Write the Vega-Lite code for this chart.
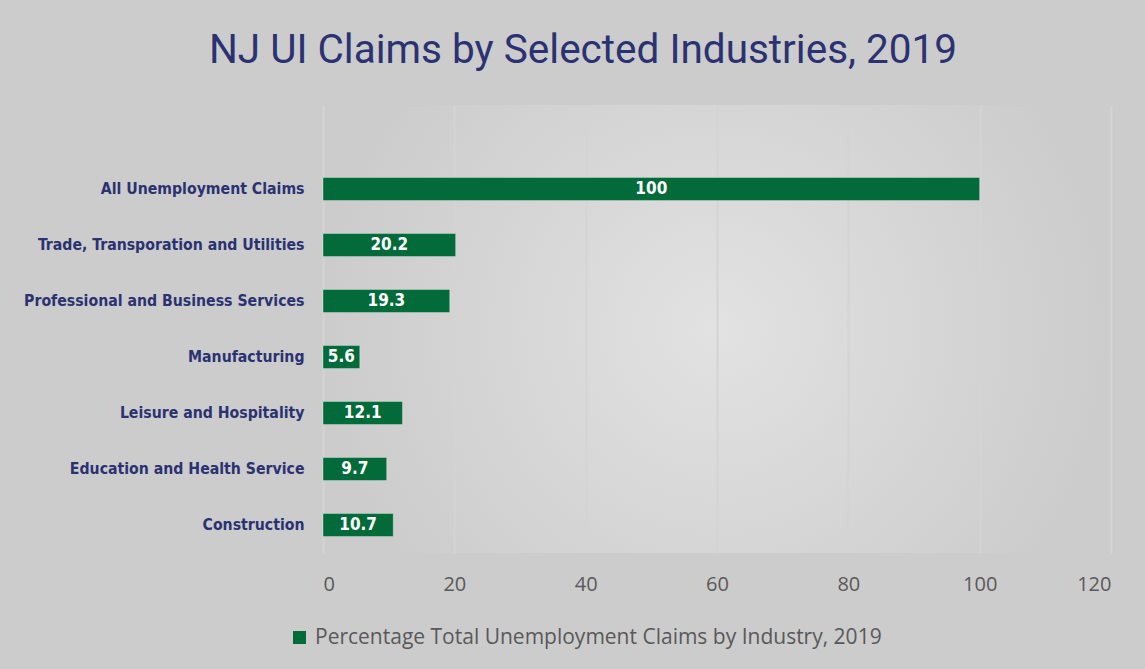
{
  "$schema": "https://vega.github.io/schema/vega-lite/v6.json",
  "width": 788,
  "height": 448,
  "autosize": {"type": "none"},
  "padding": {"left": 323, "top": 105, "right": 34, "bottom": 116},
  "background": "#cccccc",
  "view": {
    "stroke": null,
    "fill": {
      "gradient": "radial",
      "x1": 0.5, "y1": 0.5, "r1": 0,
      "x2": 0.5, "y2": 0.5, "r2": 0.5,
      "stops": [
        {"offset": 0, "color": "#e2e2e2"},
        {"offset": 1, "color": "#cccccc"}
      ]
    }
  },
  "title": {
    "text": "NJ UI Claims by Selected Industries, 2019",
    "fontSize": 40.5,
    "font": "Roboto",
    "fontWeight": "normal",
    "color": "#2b3272",
    "anchor": "middle",
    "dx": -134,
    "offset": 34
  },
  "data": {
    "values": [
      {"industry": "All Unemployment Claims", "value": 100, "series": "Percentage Total Unemployment Claims by Industry, 2019"},
      {"industry": "Trade, Transporation and Utilities", "value": 20.2, "series": "Percentage Total Unemployment Claims by Industry, 2019"},
      {"industry": "Professional and Business Services", "value": 19.3, "series": "Percentage Total Unemployment Claims by Industry, 2019"},
      {"industry": "Manufacturing", "value": 5.6, "series": "Percentage Total Unemployment Claims by Industry, 2019"},
      {"industry": "Leisure and Hospitality", "value": 12.1, "series": "Percentage Total Unemployment Claims by Industry, 2019"},
      {"industry": "Education and Health Service", "value": 9.7, "series": "Percentage Total Unemployment Claims by Industry, 2019"},
      {"industry": "Construction", "value": 10.7, "series": "Percentage Total Unemployment Claims by Industry, 2019"}
    ]
  },
  "transform": [{"calculate": "datum.value / 2", "as": "mid"}],
  "encoding": {
    "y": {
      "field": "industry",
      "type": "nominal",
      "sort": null,
      "scale": {
        "domain": [" ", "All Unemployment Claims", "Trade, Transporation and Utilities", "Professional and Business Services", "Manufacturing", "Leisure and Hospitality", "Education and Health Service", "Construction"],
        "paddingInner": 0.59,
        "paddingOuter": 0.295
      },
      "axis": {
        "title": null,
        "ticks": false,
        "domain": false,
        "labelPadding": 19,
        "labelFont": "DejaVu Sans Condensed",
        "labelFontWeight": "bold",
        "labelFontSize": 15.7,
        "labelColor": "#2b3272",
        "labelLimit": 400
      }
    }
  },
  "layer": [
    {
      "mark": {"type": "bar", "color": "#036b39", "stroke": "#ffffff", "strokeOpacity": 0.4, "strokeWidth": 0.8},
      "encoding": {
        "x": {
          "field": "value",
          "type": "quantitative",
          "scale": {"domain": [0, 120], "nice": false},
          "axis": {
            "title": null,
            "values": [0, 20, 40, 60, 80, 100, 120],
            "ticks": false,
            "domain": false,
            "grid": true,
            "gridColor": "#d4d4d4",
            "gridWidth": 2,
            "labelPadding": 21,
            "labelFont": "Open Sans",
            "labelFontSize": 20,
            "labelColor": "#595959"
          }
        },
        "color": {
          "field": "series",
          "type": "nominal",
          "scale": {"range": ["#036b39"]},
          "legend": {
            "title": null,
            "orient": "none",
            "legendX": -34,
            "legendY": 522,
            "symbolType": "square",
            "symbolSize": 170,
            "symbolStrokeWidth": 0,
            "labelFont": "Open Sans",
            "labelFontSize": 21,
            "labelColor": "#595959",
            "labelOffset": 5,
            "labelLimit": 800
          }
        }
      }
    },
    {
      "mark": {"type": "text", "color": "#ffffff", "font": "DejaVu Sans Condensed", "fontWeight": "bold", "fontSize": 17, "align": "center", "baseline": "middle"},
      "encoding": {
        "x": {"field": "mid", "type": "quantitative"},
        "text": {"field": "value", "type": "quantitative", "format": ".1~f"}
      }
    }
  ]
}
